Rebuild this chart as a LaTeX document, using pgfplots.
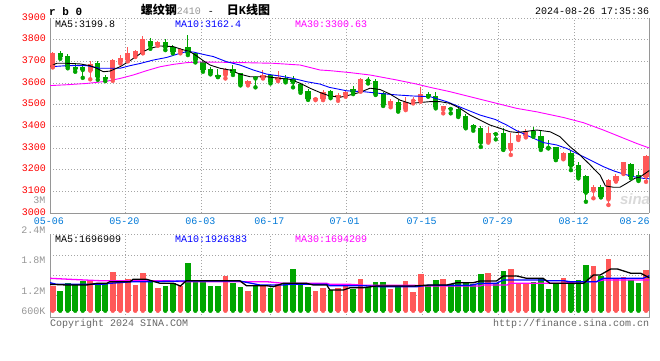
\documentclass[border=0pt]{standalone}
\usepackage{pgfplots}
\pgfplotsset{compat=1.18}
\usepackage{pgfplotstable}
\usepackage{fontspec}
\setmainfont{Liberation Sans}
\setmonofont{Liberation Mono}
\newfontfamily\cjk{Noto Sans CJK SC}
\definecolor{cR}{RGB}{255,88,88}
\definecolor{cG}{RGB}{0,165,0}
\definecolor{frm}{RGB}{150,150,150}
\definecolor{grd}{RGB}{165,165,165}
\definecolor{dblue}{RGB}{0,120,215}
\definecolor{tgray}{RGB}{150,150,150}
\definecolor{cpgray}{RGB}{100,100,100}
\definecolor{mblue}{RGB}{0,0,255}
\definecolor{mmag}{RGB}{255,0,255}

% red (up) candles: index, open, high, low, close, volume (thousand lots)
\pgfplotstableread{
k O H L C V
1 3675 3742 3672 3740 1341
6 3657 3700 3617 3686 1509
9 3621 3712 3610 3706 1761
10 3695 3729 3690 3717 1470
11 3706 3768 3700 3740 1560
12 3724 3752 3720 3749 1371
13 3740 3817 3737 3801 1731
15 3775 3792 3772 3789 1281
18 3745 3760 3737 3755 1350
24 3637 3668 3621 3663 1641
27 3595 3614 3589 3609 1191
29 3624 3660 3621 3637 1341
31 3612 3655 3609 3626 1401
36 3525 3537 3521 3530 1191
37 3525 3568 3521 3560 1281
39 3534 3552 3518 3545 1281
40 3545 3568 3537 3560 1341
42 3564 3624 3560 3618 1551
46 3498 3524 3488 3518 1251
48 3480 3537 3475 3514 1491
49 3518 3537 3506 3523 1161
50 3518 3580 3514 3549 1701
53 3478 3494 3460 3494 1551
59 3329 3398 3325 3371 1731
62 3295 3368 3268 3325 1851
63 3345 3383 3337 3360 1410
64 3355 3386 3349 3378 1431
69 3252 3283 3248 3278 1581
73 3103 3129 3068 3119 1941
75 3063 3155 3037 3152 2151
76 3149 3180 3145 3171 1581
77 3186 3237 3180 3234 1620
80 3168 3268 3144 3263 1821
}\redtab

% green (down) candles
\pgfplotstableread{
k O H L C V
2 3740 3749 3712 3722 1191
3 3724 3735 3668 3675 1431
4 3675 3691 3652 3664 1389
5 3675 3690 3624 3660 1491
7 3691 3700 3615 3629 1410
8 3629 3638 3609 3617 1419
14 3794 3806 3758 3772 1491
16 3789 3801 3752 3765 1350
17 3768 3776 3737 3742 1419
19 3765 3821 3729 3737 2031
20 3737 3740 3695 3706 1470
21 3695 3706 3652 3660 1491
22 3666 3675 3640 3645 1350
23 3637 3663 3627 3629 1350
25 3666 3683 3637 3648 1419
26 3645 3648 3589 3595 1311
28 3629 3632 3580 3621 1371
30 3637 3640 3598 3606 1269
32 3621 3637 3603 3609 1389
33 3617 3632 3580 3603 1851
34 3595 3601 3555 3563 1389
35 3563 3571 3522 3525 1311
38 3563 3568 3530 3537 1221
41 3571 3586 3549 3557 1251
43 3616 3629 3598 3611 1299
44 3609 3618 3545 3549 1461
45 3552 3560 3494 3498 1461
47 3514 3521 3468 3475 1341
51 3548 3557 3537 3540 1341
52 3540 3560 3483 3488 1521
54 3484 3491 3460 3480 1401
55 3478 3488 3443 3448 1521
56 3448 3457 3391 3394 1461
57 3406 3411 3380 3391 1401
58 3394 3403 3305 3325 1701
60 3371 3375 3340 3364 1431
61 3371 3391 3291 3295 1791
65 3380 3398 3352 3360 1461
66 3355 3380 3291 3299 1581
67 3305 3337 3298 3301 1251
68 3303 3306 3244 3249 1401
70 3278 3290 3198 3218 1401
71 3222 3237 3160 3168 1521
72 3171 3175 3052 3094 1971
74 3119 3129 3072 3075 1641
78 3226 3232 3160 3168 1521
79 3175 3195 3148 3152 1431
}\greentab

\pgfplotsset{
  kpanel/.style={
    scale only axis, xmin=0.64, xmax=80.44,
    axis x line*=bottom, axis y line*=box,
    x axis line style={-}, y axis line style={-},
    axis line style={draw=frm, line width=1pt},
    xtick={10.72,20.84,30.03,40.05,50.21,60.33,70.45}, xticklabels={},
    grid=major, major grid style={draw=grd, line width=0.8pt, dash pattern=on 1pt off 2pt},
    major tick length=0pt, no marks, clip=true,
  },
  wick/.style={only marks, error bars/.cd, y dir=plus, y explicit, error mark=none,
    error bar style={line width=1pt, #1}},
  body/.style={only marks, error bars/.cd, y dir=plus, y explicit, error mark=none,
    error bar style={line width=5.3pt, #1}},
  vbar/.style={only marks, error bars/.cd, y dir=plus, y explicit, error mark=none,
    error bar style={line width=5.6pt, #1}},
}

\begin{document}
\begin{tikzpicture}[x=1pt,y=1pt]
\useasboundingbox (0pt,0pt) rectangle (660pt,360pt);

% ---------------- price panel ----------------
\begin{axis}[kpanel, at={(50pt,147pt)}, anchor=south west, width=599.3pt, height=195pt,
  ymin=3000, ymax=3900, ytick={3000,3100,...,3900},
  /pgf/number format/.cd, assume math mode=true, 1000 sep={},
  /pgfplots/.cd,
  yticklabel style={font=\fontsize{10}{10}\selectfont\ttfamily, text=red, inner sep=0pt, anchor=east, xshift=-4pt, yshift=1pt},
  ]
\addplot[cR, wick=cR] table[x=k, y=L, y error expr=\thisrow{H}-\thisrow{L}] {\redtab};
\addplot[cR, body=cR] table[x=k, y=O, y error expr=\thisrow{C}-\thisrow{O}] {\redtab};
\addplot[cG, wick=cG] table[x=k, y=L, y error expr=\thisrow{H}-\thisrow{L}] {\greentab};
\addplot[cG, body=cG] table[x=k, y=C, y error expr=\thisrow{O}-\thisrow{C}] {\greentab};
% MA30
\addplot[mmag, line width=0.9pt] coordinates {
(0.64,3588) (2.86,3592) (5.53,3598) (8.19,3608) (9.96,3621) (11.73,3637) (13.51,3657)
(15.29,3675) (17.06,3686) (18.84,3694) (20.61,3697) (25.05,3695) (30.38,3691) (33.93,3683)
(36.6,3660) (37.92,3657) (40.59,3648) (43.25,3637) (46.8,3614) (49.47,3595) (51.24,3580)
(53.9,3560) (56.56,3537) (60.12,3506) (62.78,3483) (65.45,3467) (68.99,3441) (71.65,3417)
(74.32,3383) (76.54,3352) (78.76,3321) (80.44,3300)};
% MA10
\addplot[mblue, line width=0.9pt] coordinates {
(0.64,3675) (2.86,3680) (5.53,3680) (7.3,3668) (9.96,3668) (11.29,3680) (12.62,3690)
(14.4,3706) (16.18,3718) (17.95,3737) (18.84,3745) (19.72,3743) (21.05,3732) (22.39,3722)
(24.17,3698) (25.94,3683) (27.71,3660) (29.5,3641) (31.27,3632) (33.04,3621) (34.82,3606)
(36.6,3595) (37.83,3580) (40.15,3564) (42.36,3560) (44.58,3552) (46.8,3545) (49.02,3540)
(51.24,3537) (53.46,3514) (55.67,3483) (57.9,3452) (59.9,3432) (61.45,3406) (62.78,3380)
(64.56,3352) (66.33,3325) (68.11,3314) (69.44,3298) (70.77,3275) (72.55,3245) (74.32,3214)
(75.65,3195) (76.98,3180) (78.31,3168) (79.64,3160) (80.44,3158)};
% MA5
\addplot[black, line width=0.9pt] coordinates {
(0.64,3676) (1.53,3691) (2.86,3691) (4.64,3688) (5.97,3680) (6.86,3668) (7.74,3652)
(8.63,3655) (9.96,3675) (11.07,3698) (12.18,3724) (13.07,3745) (13.96,3760) (15.29,3771)
(17.06,3768) (18.18,3755) (19.28,3745) (20.17,3725) (21.05,3703) (21.95,3683) (23.28,3668)
(24.6,3660) (25.94,3641) (27.27,3629) (29.5,3629) (31.27,3621) (32.6,3617) (33.93,3599)
(35.26,3576) (36.6,3556) (37.83,3541) (39.26,3534) (40.59,3545) (41.92,3557) (43.25,3576)
(44.58,3570) (45.91,3549) (47.24,3521) (48.58,3506) (49.91,3510) (51.24,3514) (52.57,3514)
(53.9,3506) (55.23,3483) (56.56,3452) (57.9,3429) (59.23,3406) (60.56,3391) (61.89,3375)
(62.78,3372) (63.66,3375) (65.45,3383) (67.22,3375) (68.55,3352) (69.88,3306) (71.21,3268)
(72.55,3222) (73.88,3175) (74.6,3125) (75.65,3119) (76.54,3119) (77.43,3137) (78.5,3160)
(79.2,3166) (80.44,3196)};
\end{axis}

% ---------------- volume panel ----------------
\begin{axis}[kpanel, at={(50pt,42.3pt)}, anchor=south west, width=599.3pt, height=83.7pt,
  ymin=390, ymax=2901, ytick={1071,1671,2271,2901}, yticklabels={},
  ]
\addplot[cR, vbar=cR] table[x=k, y expr=600, y error expr=\thisrow{V}-600] {\redtab};
\addplot[cG, vbar=cG] table[x=k, y expr=600, y error expr=\thisrow{V}-600] {\greentab};
% MA30
\addplot[mmag, line width=1.3pt] coordinates {
(0.64,1572) (3.3,1542) (7.3,1500) (16.2,1500) (18.4,1470) (29.5,1470) (31.7,1422)
(37.5,1422) (37.9,1392) (40.6,1392) (42.4,1362) (49,1362) (51.2,1341) (57.9,1341)
(58.3,1371) (61.5,1371) (61.9,1422) (69,1422) (70.8,1470) (73.4,1470) (74.3,1521) (80.44,1521)};
% MA10
\addplot[mblue, line width=1.3pt] coordinates {
(0.64,1440) (1.5,1392) (7.7,1392) (8.6,1422) (11.7,1470) (13.5,1470) (18.4,1491)
(25.9,1491) (28.6,1371) (31.7,1371) (32.6,1392) (37.5,1392) (37.9,1350) (42.4,1350)
(44.6,1320) (49.5,1320) (50.8,1362) (56.6,1362) (57.9,1422) (60.1,1422) (61,1521)
(66.3,1521) (66.8,1500) (69,1500) (69.9,1470) (73.4,1470) (74.3,1572) (79.6,1572) (80.44,1650)};
% MA5
\addplot[black, line width=1.3pt] coordinates {
(0.64,1392) (2.9,1371) (5.5,1371) (6.9,1422) (8.2,1422) (8.6,1470) (11.3,1470) (11.7,1542)
(13.5,1542) (15.3,1422) (17.1,1422) (18,1341) (18.8,1500) (25.9,1500) (26.8,1350) (29.5,1350)
(30.4,1320) (31.7,1422) (34.8,1422) (35.7,1371) (37.5,1371) (37.9,1221) (39.7,1221) (40.6,1290)
(42.4,1290) (44.1,1341) (49,1341) (51.2,1371) (53.5,1371) (54.8,1440) (57,1440) (57.9,1491)
(60.1,1491) (61,1641) (62.8,1641) (64.1,1572) (66.3,1572) (67.2,1422) (71.7,1422) (73,1671)
(73.9,1671) (75.3,1851) (76.2,1851) (78,1722) (79.3,1722) (80.44,1590)};
\end{axis}

% ---------------- texts ----------------
\node[anchor=west, inner sep=0, font=\fontsize{11}{11}\selectfont\ttfamily\bfseries] at (49pt,348.5pt) {r b 0};
\node[anchor=west, inner sep=0] at (140.7pt,350.5pt) {{\cjk\bfseries\fontsize{12}{12}\selectfont 螺纹钢}{\fontsize{10}{10}\selectfont\ttfamily\textcolor{tgray}{2410}\hspace{7pt}-\hspace{13pt}}{\cjk\bfseries\fontsize{12}{12}\selectfont 日}{\fontsize{12}{12}\selectfont\ttfamily\bfseries K}{\cjk\bfseries\fontsize{12}{12}\selectfont 线图}};
\node[anchor=east, inner sep=0, font=\fontsize{10}{10}\selectfont\ttfamily] at (649.3pt,348.5pt) {2024-08-26 17:35:36};

\begin{scope}[every node/.style={anchor=west, inner sep=0, font=\fontsize{10}{10}\selectfont\ttfamily}]
\node[text=black] at (55pt,336pt) {MA5:3199.8};
\node[text=mblue] at (175pt,336pt) {MA10:3162.4};
\node[text=mmag] at (295pt,336pt) {MA30:3300.63};
\node[text=black] at (55pt,121pt) {MA5:1696909};
\node[text=mblue] at (175pt,121pt) {MA10:1926383};
\node[text=mmag] at (295pt,121pt) {MA30:1694209};
\end{scope}

\begin{scope}[every node/.style={anchor=east, inner sep=0, text=tgray, font=\fontsize{10}{10}\selectfont\ttfamily}]
\node at (45.7pt,160pt) {3M};
\node at (45.7pt,130pt) {2.4M};
\node at (45.7pt,100pt) {1.8M};
\node at (45.7pt,69pt) {1.2M};
\node at (45.7pt,49pt) {600K};
\end{scope}

\begin{scope}[every node/.style={inner sep=0, text=dblue, font=\fontsize{10}{10}\selectfont\ttfamily}]
\node at (49pt,139.3pt) {05-06};
\node at (124.3pt,139.3pt) {05-20};
\node at (200.3pt,139.3pt) {06-03};
\node at (269.3pt,139.3pt) {06-17};
\node at (344.7pt,139.3pt) {07-01};
\node at (421.7pt,139.3pt) {07-15};
\node at (497.7pt,139.3pt) {07-29};
\node at (573.7pt,139.3pt) {08-12};
\node at (634.7pt,139.3pt) {08-26};
\end{scope}

\node[text=gray!30, font=\fontsize{15}{15}\selectfont\bfseries\itshape] at (635pt,161pt) {sina};

\node[anchor=west, inner sep=0, text=cpgray, font=\fontsize{10}{10}\selectfont\ttfamily] at (50pt,36.3pt) {Copyright 2024 SINA.COM};
\node[anchor=east, inner sep=0, text=cpgray, font=\fontsize{10}{10}\selectfont\ttfamily] at (649.3pt,36.3pt) {http://finance.sina.com.cn};
\end{tikzpicture}
\end{document}
